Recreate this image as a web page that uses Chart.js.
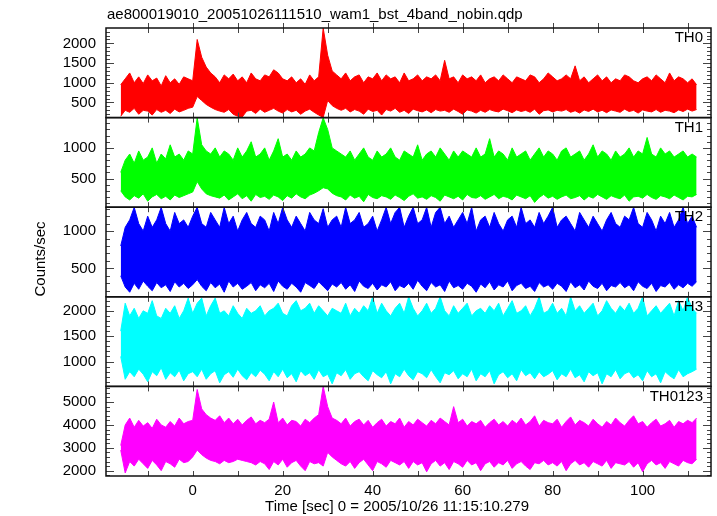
<!DOCTYPE html>
<html>
<head>
<meta charset="utf-8">
<script src="https://cdn.jsdelivr.net/npm/chart.js@4"></script>
<style>html,body{margin:0;background:#fff}</style>
</head>
<body>
<canvas id="lc" width="717" height="516"></canvas>
<script>
// light curve envelopes, one value per second from t = -16 s to t = 112 s
const tStart = -16;

const th0Hi = [
  950, 1100, 1250, 1000, 1150, 980, 1200, 1050, 1120, 920, 1180, 1000, 1100, 960, 1150, 1100,
  1050, 2100, 1650, 1400, 1250, 1150, 1000, 1200, 1100, 1220, 1050, 1150, 1000, 1250, 1100, 1050,
  1200, 1150, 1330, 1250, 1100, 1050, 1150, 1000, 1100, 960, 1200, 1050, 1150, 2390, 1700, 1300,
  1200, 1100, 1250, 1050, 1150, 1200, 1000, 1150, 1100, 1250, 1050, 1200, 1100, 1150, 1000, 1250,
  1050, 1100, 1200, 1050, 1150, 1100, 1200, 1050, 1570, 1100, 1150, 1000, 1200, 1100, 1150, 1050,
  1200, 1000, 1100, 1150, 1050, 1200, 1100, 1000, 1150, 1100, 1050, 1200, 1150, 1000, 1100, 1250,
  1150, 1050, 1100, 1200, 1100, 1430, 1050, 1150, 1000, 1100, 1200, 1050, 1150, 1000, 1100, 1050,
  1200, 1150, 1050, 1000, 1100, 1150, 1050, 1200, 1100, 1000, 1250, 1050, 1150, 1100, 1000, 1100,
  950
];
const th0Lo = [
  150, 300, 250, 350, 200, 300, 280, 180, 320, 250, 300, 220, 330, 260, 300, 350,
  380, 650, 550, 450, 380, 320, 280, 250, 320, 200, 150, 130, 280, 300, 220, 330,
  250, 300, 350, 280, 230, 320, 260, 300, 200, 280, 330, 250, 180, 120, 550, 420,
  350, 300, 350, 260, 320, 280, 200, 330, 270, 300, 180, 320, 280, 350, 250, 300,
  220, 330, 290, 260, 310, 240, 320, 280, 300, 250, 330, 270, 200, 310, 280, 230,
  300, 250, 320, 280, 260, 330, 290, 240, 310, 270, 300, 250, 330, 200, 290, 310,
  260, 300, 280, 320, 250, 290, 230, 310, 270, 330, 260, 300, 240, 310, 280, 250,
  330, 270, 300, 230, 310, 280, 260, 320, 250, 300, 280, 240, 310, 270, 330, 280,
  320
];
const th1Hi = [
  600, 800, 900, 750, 950, 800, 850, 1000, 750, 900, 820, 1050, 850, 900, 800, 950,
  900, 1490, 1050, 950, 900, 1000, 850, 950, 900, 800, 1000, 850, 950, 1100, 850, 900,
  1000, 800, 950, 1150, 850, 900, 800, 950, 850, 900, 1000, 950, 1250, 1490, 1300, 1000,
  950, 900, 850, 950, 800, 900, 1000, 850, 800, 950, 850, 900, 1000, 850, 800, 950,
  900, 850, 1050, 800, 900, 950, 850, 1000, 900, 800, 950, 850, 950, 900, 850, 1000,
  850, 900, 1150, 850, 950, 900, 800, 1000, 850, 900, 950, 800, 900, 1000, 850, 950,
  900, 800, 950, 1000, 850, 900, 950, 800, 900, 1050, 850, 950, 900, 800, 950, 850,
  900, 1000, 850, 950, 900, 1170, 900, 850, 1000, 900, 950, 850, 900, 950, 850, 900,
  850
];
const th1Lo = [
  300, 200, 150, 220, 180, 250, 130, 200, 240, 170, 210, 150, 230, 190, 220, 250,
  280, 450, 330, 250, 220, 200, 180, 230, 150, 200, 250, 170, 220, 130, 240, 190,
  210, 160, 230, 200, 140, 220, 180, 250, 200, 170, 230, 260, 300, 350, 330, 260,
  220, 200, 150, 230, 180, 210, 120, 240, 190, 170, 220, 200, 160, 230, 190, 140,
  210, 250, 180, 200, 160, 220, 190, 130, 230, 200, 170, 210, 150, 240, 190, 180,
  220, 160, 200, 240, 170, 210, 190, 150, 230, 200, 170, 220, 110, 190, 240, 180,
  210, 160, 200, 230, 170, 190, 220, 150, 210, 180, 240, 200, 160, 220, 190, 170,
  230, 130, 200, 210, 180, 240, 190, 160, 220, 200, 170, 230, 190, 150, 210, 200,
  240
];
const th2Hi = [
  800, 1050, 1150, 1318, 1100, 1000, 1200, 1050, 1150, 1318, 1100, 1000, 1250, 1100, 1150, 1050,
  1200, 1318, 1100, 1050, 1250, 1150, 1050, 1318, 1100, 1200, 1000, 1150, 1250, 1100, 1050, 1200,
  1150, 1000, 1250, 1100, 1318, 1150, 1050, 1200, 1100, 1000, 1250, 1150, 1100, 1300, 1050, 1150,
  1200, 1050, 1318, 1100, 1150, 1250, 1050, 1100, 1200, 1000, 1150, 1318, 1100, 1250, 1318, 1050,
  1200, 1318, 1100, 1150, 1318, 1050, 1250, 1318, 1100, 1200, 1050, 1150, 1250, 1100, 1318, 1000,
  1150, 1200, 1050, 1250, 1100, 1000, 1150, 1200, 1050, 1318, 1100, 1150, 1050, 1250, 1100, 1200,
  1318, 1050, 1150, 1200, 1100, 1000, 1250, 1150, 1050, 1200, 1100, 1000, 1150, 1250, 1100, 1050,
  1200, 1150, 1318, 1100, 1050, 1250, 1150, 1000, 1200, 1100, 1250, 1050, 1150, 1318, 1100, 1200,
  1050
];
const th2Lo = [
  400, 250, 180, 300, 220, 330, 260, 200, 310, 240, 280, 190, 320, 250, 300, 230,
  280, 350, 260, 200, 310, 240, 290, 180, 330, 250, 300, 220, 260, 310, 200, 280,
  240, 300, 190, 330, 260, 220, 300, 250, 180, 310, 270, 230, 320, 260, 200, 290,
  250, 310, 220, 280, 190, 330, 260, 230, 300, 210, 280, 250, 320, 200, 270, 240,
  300, 220, 340, 260, 200, 310, 250, 280, 190, 330, 240, 270, 220, 300, 260, 180,
  290, 240, 320, 210, 280, 250, 330, 200, 270, 300, 230, 260, 190, 310, 250, 280,
  220, 300, 260, 190, 320, 240, 280, 210, 330, 260, 230, 300, 200, 270, 250, 310,
  240, 280, 200, 320, 260, 230, 300, 190, 270, 250, 310, 220, 280, 240, 300, 260,
  320
];
const th3Hi = [
  1600, 2150, 1900, 2050, 1850, 2000, 1950, 2200, 1900, 1850, 2050, 1950, 2100, 1850, 2000, 2250,
  1950, 2150, 2250, 1900, 2100, 2250, 1950, 2000, 1900, 2100, 1950, 1850, 2050, 1950, 2000, 2100,
  1900, 2000, 2050, 2150, 1950, 1900, 2100, 2200, 2000, 2050, 2150, 1950, 2100, 2000, 1900, 2050,
  2000, 1950, 2150, 1900, 2050, 1950, 2100, 2000, 2276, 1950, 2150, 2000, 1900, 2050, 2150, 1950,
  2276, 2050, 1900, 2000, 2150, 1950, 2050, 2276, 2000, 1900, 2100, 1950, 2050, 2150, 1900, 2000,
  2050, 1950, 2100, 2000, 2150, 1900, 2050, 2200, 1950, 2000, 2100, 1900, 2050, 2276, 1950, 2000,
  2150, 1950, 2050, 1900, 2276, 2000, 2100, 1950, 2050, 2150, 1900, 2000, 2200, 2050, 1950, 2100,
  2000, 2150, 1950, 2050, 2276, 1900, 2000, 2100, 1950, 2050, 2150, 1900, 2200, 2000, 2276, 2050,
  1950
];
const th3Lo = [
  1100, 650, 800, 700, 850, 750, 600, 800, 720, 880, 650, 780, 700, 830, 620, 760,
  800, 700, 850, 650, 760, 820, 580, 740, 800, 690, 850, 720, 640, 780, 700, 830,
  750, 620, 800, 700, 850, 680, 760, 600, 820, 720, 780, 650, 840, 700, 750, 560,
  780, 720, 840, 650, 760, 800, 700, 620, 820, 740, 680, 800, 560, 760, 700, 850,
  720, 640, 800, 760, 680, 840, 700, 580, 780, 740, 820, 660, 760, 700, 850, 620,
  760, 700, 820, 560, 740, 800, 680, 760, 620, 840, 720, 780, 660, 800, 700, 750,
  820, 640, 760, 700, 850, 680, 740, 600, 800, 720, 780, 560, 760, 700, 840, 660,
  760, 800, 680, 740, 620, 820, 700, 760, 580, 800, 720, 660, 840, 700, 760, 800,
  850
];
const th0123Hi = [
  3100, 4000, 4300, 3900, 4200, 3950, 4100, 3850, 4250, 4000, 3900, 4150, 3950, 4300, 4050, 4150,
  4200, 5550, 4700, 4450, 4300, 4200, 4400, 4100, 4300, 4050, 4250, 4000, 4200, 4350, 4050, 4200,
  4100, 4250, 5000, 4100, 4300, 4000, 4200, 4150, 3950, 4250, 4100, 4300, 4450, 5685, 4800, 4300,
  4200, 4050, 4300, 3950, 4150, 4250, 4000, 4200, 3900, 4100, 4250, 3950, 4150, 4050, 4300, 3900,
  4150, 4000, 4250, 4100, 3950, 4200, 4050, 4300, 4150, 4000, 4800, 4100, 4250, 3950, 4150, 4050,
  4200, 3900, 4100, 4250, 4000, 4150, 3950, 4200, 4050, 4300, 4000, 4150, 4400, 3950, 4200, 4100,
  4050, 4250, 3900, 4150, 4350, 4000, 4200, 4100, 3950, 4250, 4050, 3900, 4150, 4000, 4300, 4100,
  3950, 4200, 4400, 4050, 4150, 3900, 4100, 4250, 3950, 4050, 4200, 3900, 4150, 4050, 4200, 4100,
  4300
];
const th0123Lo = [
  2900, 1900, 2400, 2200, 2500, 2300, 2100, 2450, 2250, 2000, 2400, 2300, 2150, 2500, 2350, 2400,
  2600, 2900, 2700, 2550, 2450, 2400, 2300, 2450, 2350, 2400, 2500, 2450, 2400, 2350, 2250, 2400,
  2300, 2050, 2400, 2250, 2500, 2150, 2350, 2450, 2200, 2000, 2400, 2300, 2350, 2200, 2800, 2600,
  2450, 2300, 2200, 2400, 2100, 2350, 2500, 2250, 2000, 2400, 2300, 2150, 2450, 2350, 2250, 2400,
  2100, 2400, 2250, 2350, 1950, 2300, 2450, 2200, 2350, 2050, 2400, 2300, 2150, 2450, 2250, 2350,
  2000, 2300, 2400, 2150, 2350, 2250, 2450, 2100, 2300, 2400, 2200, 2050, 2350, 2300, 2450, 2250,
  2350, 2200, 2400, 2000, 2300, 2450, 2250, 2350, 2150, 2400, 2300, 2200, 2450, 2100, 2350, 2300,
  2250, 2400, 2150, 2350, 1950, 2300, 2450, 2250, 2350, 2100, 2400, 2300, 2200, 2450, 2350, 2300,
  2500
];

const panelNames = ['TH0', 'TH1', 'TH2', 'TH3', 'TH0123'];
const panelColors = ['#ff0000', '#00ff00', '#0000ff', '#00ffff', '#ff00ff'];
const panelHi = [th0Hi, th1Hi, th2Hi, th3Hi, th0123Hi];
const panelLo = [th0Lo, th1Lo, th2Lo, th3Lo, th0123Lo];
const yRanges = [[115, 2392], [32, 1494], [119, 1320], [510, 2276], [1767, 5685]];
const yTickLabels = [[500, 1000, 1500, 2000], [500, 1000], [500, 1000], [1000, 1500, 2000], [2000, 3000, 4000, 5000]];
const yMinorStep = [100, 100, 100, 100, 200];
const yMajorStep = [500, 500, 500, 500, 1000];
const xTickLabels = [0, 20, 40, 60, 80, 100];
const xTickMarks = [-10, 0, 10, 20, 30, 40, 50, 60, 70, 80, 90, 100, 110];
const xRange = [-19.27, 115.2];

const titleText = 'ae800019010_20051026111510_wam1_bst_4band_nobin.qdp';
const xTitle = 'Time [sec] 0 = 2005/10/26 11:15:10.279';
const yTitle = 'Counts/sec';
const FONT = '"Liberation Sans", Arial, Helvetica, sans-serif';

const times = th0Hi.map((_, i) => tStart + i);
const yIds = panelNames.map((_, k) => 'y' + k);

const datasets = [];
panelNames.forEach((name, k) => {
  datasets.push({
    label: name + ' hi',
    data: panelHi[k].map((v, i) => ({ x: times[i], y: v })),
    yAxisID: yIds[k],
    borderColor: panelColors[k],
    backgroundColor: panelColors[k],
    borderWidth: 1,
    pointRadius: 0,
    fill: '+1'
  });
  datasets.push({
    label: name + ' lo',
    data: panelLo[k].map((v, i) => ({ x: times[i], y: v })),
    yAxisID: yIds[k],
    borderColor: panelColors[k],
    backgroundColor: panelColors[k],
    borderWidth: 1,
    pointRadius: 0,
    fill: false
  });
});

const scales = {
  x: {
    type: 'linear',
    min: xRange[0],
    max: xRange[1],
    afterBuildTicks: s => { s.ticks = xTickLabels.map(v => ({ value: v })); },
    afterFit: s => { s.height = 40; },
    ticks: { color: '#000', font: { family: FONT, size: 15 }, padding: 6, maxRotation: 0, autoSkip: false,
             callback: v => String(v) },
    grid: { display: false, drawTicks: false },
    border: { display: false }
  }
};
// stacked axes are laid out bottom-up, so the last panel goes in first
for (let k = yIds.length - 1; k >= 0; k--) {
  scales[yIds[k]] = {
    type: 'linear',
    position: 'left',
    stack: 'panels',
    stackWeight: 1,
    min: yRanges[k][0],
    max: yRanges[k][1],
    afterBuildTicks: s => { s.ticks = yTickLabels[k].map(v => ({ value: v })); },
    afterFit: s => { s.width = 106; },
    ticks: { color: '#000', font: { family: FONT, size: 15 }, padding: 10, autoSkip: false,
             callback: v => String(v) },
    grid: { display: false, drawTicks: false },
    border: { display: false }
  };
}

const qdpFrame = {
  id: 'qdpFrame',
  afterDraw(chart) {
    const ctx = chart.ctx;
    const area = chart.chartArea;
    const xs = chart.scales.x;
    ctx.save();
    yIds.forEach((id, k) => {
      const s = chart.scales[id];
      ctx.strokeStyle = '#444';
      ctx.lineWidth = 1;
      ctx.beginPath();
      const first = Math.ceil(s.min / yMinorStep[k]) * yMinorStep[k];
      for (let v = first; v <= s.max; v += yMinorStep[k]) {
        const py = Math.round(s.getPixelForValue(v)) + 0.5;
        const len = v % yMajorStep[k] === 0 ? 8 : 4;
        ctx.moveTo(area.left, py); ctx.lineTo(area.left + len, py);
        ctx.moveTo(area.right, py); ctx.lineTo(area.right - len, py);
      }
      xTickMarks.forEach(v => {
        const px = Math.round(xs.getPixelForValue(v)) + 0.5;
        ctx.moveTo(px, s.top); ctx.lineTo(px, s.top + 5);
        ctx.moveTo(px, s.bottom); ctx.lineTo(px, s.bottom - 5);
        if (k === 0) { ctx.moveTo(px, s.top); ctx.lineTo(px, s.top - 5); }
      });
      ctx.stroke();
      ctx.strokeStyle = '#111';
      ctx.lineWidth = 1.5;
      ctx.strokeRect(area.left, s.top, area.right - area.left, s.bottom - s.top);

      ctx.fillStyle = '#000';
      ctx.font = '15px ' + FONT;
      ctx.textAlign = 'right';
      ctx.textBaseline = 'middle';
      ctx.fillText(panelNames[k], area.right - 8, s.top + 10);
    });

    ctx.fillStyle = '#000';
    ctx.font = '15px ' + FONT;
    ctx.textBaseline = 'middle';
    ctx.textAlign = 'left';
    ctx.fillText(titleText, area.left + 1, 15);
    ctx.textAlign = 'center';
    ctx.fillText(xTitle, 397, 507);
    ctx.translate(41, 259);
    ctx.rotate(-Math.PI / 2);
    ctx.fillText(yTitle, 0, 0);
    ctx.restore();
  }
};

new Chart(document.getElementById('lc').getContext('2d'), {
  type: 'line',
  data: { datasets },
  options: {
    responsive: false,
    animation: false,
    devicePixelRatio: 1,
    layout: { padding: { top: 28, right: 6, left: 0, bottom: 0 } },
    plugins: { legend: { display: false }, tooltip: { enabled: false } },
    scales
  },
  plugins: [qdpFrame]
});
</script>
</body>
</html>
